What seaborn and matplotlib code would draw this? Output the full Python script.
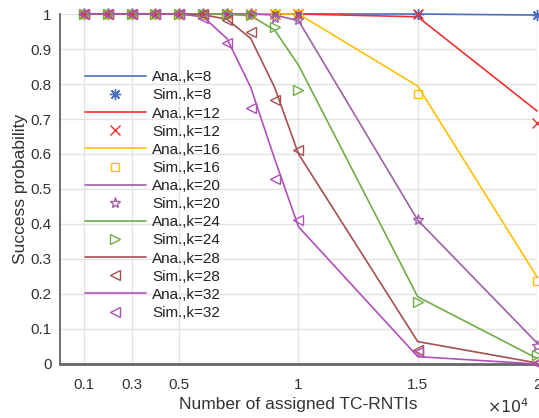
import numpy as np
import pandas as pd
import matplotlib
matplotlib.use("Agg")
import matplotlib.pyplot as plt
from matplotlib.lines import Line2D
import seaborn as sns

# ---- data ----
x_vals = [1000, 2000, 3000, 4000, 5000, 6000, 7000, 8000, 9000, 10000, 15000, 20000]
k_values = [8, 12, 16, 20, 24, 28, 32]

ana_k8 = [1, 1, 1, 1, 1, 1, 1, 1, 1, 1, 1.0, 0.997]
sim_k8 = [1, 1, 1, 1, 1, 1, 1, 1, 1, 1, 1.0, 0.998]
ana_k12 = [1, 1, 1, 1, 1, 1, 1, 1, 1, 1, 0.992, 0.723]
sim_k12 = [1, 1, 1, 1, 1, 1, 1, 1, 1, 1, 1.0, 0.69]
ana_k16 = [1, 1, 1, 1, 1, 1, 1, 1, 1, 1, 0.794, 0.249]
sim_k16 = [1, 1, 1, 1, 1, 1, 1, 1, 1, 1, 0.771, 0.237]
ana_k20 = [1, 1, 1, 1, 1, 1, 1, 1, 0.997, 0.981, 0.411, 0.06]
sim_k20 = [1, 1, 1, 1, 1, 1, 1, 1, 0.99, 0.983, 0.411, 0.05]
ana_k24 = [1, 1, 1, 1, 1, 1, 0.999, 0.995, 0.954, 0.854, 0.192, 0.016]
sim_k24 = [1, 1, 1, 1, 1, 1, 1.0, 0.997, 0.963, 0.783, 0.178, 0.026]
ana_k28 = [1, 1, 1, 1, 1, 0.998, 0.985, 0.93, 0.79, 0.60, 0.064, 0.003]
sim_k28 = [1, 1, 1, 1, 1, 1.0, 0.983, 0.949, 0.754, 0.611, 0.04, 0.003]
ana_k32 = [1, 1, 1, 1, 1, 0.992, 0.93, 0.79, 0.586, 0.392, 0.021, 0.0]
sim_k32 = [1, 1, 1, 1, 1, 0.99, 0.916, 0.731, 0.528, 0.411, 0.035, 0.003]

ana_series = [ana_k8, ana_k12, ana_k16, ana_k20, ana_k24, ana_k28, ana_k32]
sim_series = [sim_k8, sim_k12, sim_k16, sim_k20, sim_k24, sim_k28, sim_k32]

x_ticks = [1000, 3000, 5000, 10000, 15000, 20000]
x_tick_labels = ["0.1", "0.3", "0.5", "1", "1.5", "2"]
y_ticks = [0, 0.1, 0.2, 0.3, 0.4, 0.5, 0.6, 0.7, 0.8, 0.9, 1]
y_tick_labels = ["0", "0.1", "0.2", "0.3", "0.4", "0.5", "0.6", "0.7", "0.8", "0.9", "1"]

colors = ["#4A6FBF", "#F03030", "#FFC000", "#A05FA8", "#70AD47", "#A5504F", "#B050B8"]
markers = [(8, 2, 0), "x", "s", "*", ">", "<", "<"]
msizes = [8, 7, 6, 8, 7, 7, 7]

# ---- style ----
sns.set_style("white")
plt.rcParams["font.family"] = ["Liberation Sans", "DejaVu Sans"]

fig = plt.figure(figsize=(5.39, 4.18), dpi=100)
ax = fig.add_axes([0.1113, 0.1292, 0.8850, 0.8373])

text_col = "#333333"

for i, k in enumerate(k_values):
    df = pd.DataFrame({"x": x_vals, "y": ana_series[i]})
    sns.lineplot(data=df, x="x", y="y", color=colors[i], linewidth=1.2, ax=ax,
                 clip_on=False, zorder=3)
    ax.plot(x_vals, sim_series[i], linestyle="none", marker=markers[i],
            markersize=msizes[i], markerfacecolor="none",
            markeredgecolor=colors[i], markeredgewidth=1.0, clip_on=False, zorder=4)

ax.set_xlim(0, 20000)
ax.set_ylim(0, 1)
ax.set_xticks(x_ticks)
ax.set_xticklabels(x_tick_labels)
ax.set_yticks(y_ticks)
ax.set_yticklabels(y_tick_labels)

ax.grid(True, color="#E3E3E3", linewidth=1.0, zorder=0)
ax.set_axisbelow(True)

for s in ["top", "right"]:
    ax.spines[s].set_visible(False)
ax.spines["left"].set_color("#555555")
ax.spines["left"].set_linewidth(1.2)
ax.spines["bottom"].set_color("#666666")
ax.spines["bottom"].set_linewidth(2.0)

ax.tick_params(axis="both", direction="in", length=4, width=0.8, colors="#555555",
               labelcolor=text_col, labelsize=11, pad=6)
ax.tick_params(axis="x", pad=10)

ax.set_xlabel("Number of assigned TC-RNTIs", fontsize=12.5, color=text_col, labelpad=4)
ax.set_ylabel("Success probability", fontsize=12.5, color=text_col, labelpad=2)
ax.text(0.985, -0.122, r"$\times10^4$", transform=ax.transAxes, ha="right", va="center",
        fontsize=11.5, color=text_col)

# ---- legend ----
handles = []
labels = []
for i, k in enumerate(k_values):
    handles.append(Line2D([], [], color=colors[i], linewidth=1.2))
    labels.append(f"Ana.,k={k}")
    handles.append(Line2D([], [], linestyle="none", marker=markers[i], markersize=msizes[i],
                          markerfacecolor="none", markeredgecolor=colors[i],
                          markeredgewidth=1.0))
    labels.append(f"Sim.,k={k}")

leg = ax.legend(handles, labels, loc="center left", bbox_to_anchor=(0.052, 0.4826),
                frameon=False, fontsize=11, handlelength=4.0, handletextpad=0.4,
                labelspacing=0.27, borderpad=0, borderaxespad=0)
for t in leg.get_texts():
    t.set_color("#222222")

fig.savefig("out.png", dpi=100)
